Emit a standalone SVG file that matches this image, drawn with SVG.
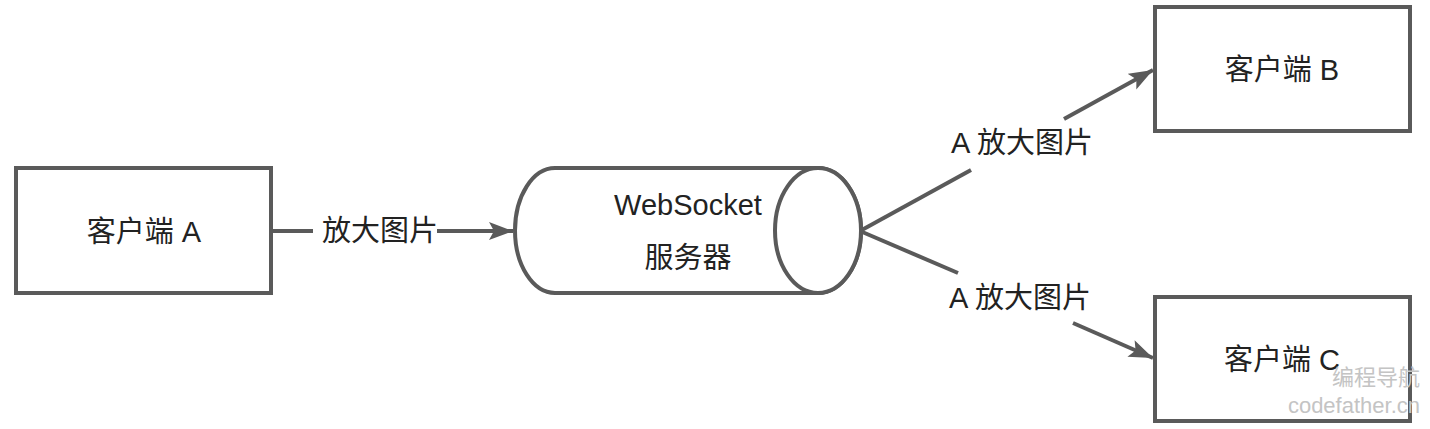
<svg xmlns="http://www.w3.org/2000/svg" width="1430" height="429" viewBox="0 0 1430 429">
<style>
.box{fill:#fff;stroke:#5a5a5a;stroke-width:4}
.ln{fill:none;stroke:#5a5a5a;stroke-width:4}
.t{font-family:"Liberation Sans","Noto Sans CJK SC",sans-serif;font-size:29px;fill:#222;text-anchor:middle}
.wm{font-family:"Liberation Sans","Noto Sans CJK SC",sans-serif;font-size:22px;fill:#c4c4c4;text-anchor:end}
</style>
<defs>
<marker id="ah" markerUnits="userSpaceOnUse" markerWidth="26" markerHeight="20" refX="24" refY="10" orient="auto">
<path d="M0,1 L24,10 L0,19 L5,10 Z" fill="#5a5a5a"/>
</marker>
</defs>
<rect width="1430" height="429" fill="#fff"/>
<g id="connectors">
<path class="ln" d="M271,231 L313,231"/>
<path class="ln" d="M437,231 L513,231" marker-end="url(#ah)"/>
<text class="t" x="380" y="241">放大图片</text>
<path class="ln" d="M860,231 L971,170"/>
<path class="ln" d="M1064,119 L1153,70" marker-end="url(#ah)"/>
<text class="t" x="1022" y="153">A 放大图片</text>
<path class="ln" d="M860,231 L958,273"/>
<path class="ln" d="M1073,323 L1153,358" marker-end="url(#ah)"/>
<text class="t" x="1020" y="308">A 放大图片</text>
</g>
<g id="clientA">
<rect class="box" x="16" y="168" width="255" height="125"/>
<text class="t" x="144" y="242">客户端 A</text>
</g>
<g id="server">
<path class="box" d="M555,168 L818,168 A43,62.5 0 0 1 818,293 L555,293 A40,62.5 0 0 1 555,168 Z"/>
<ellipse class="box" cx="818" cy="230.5" rx="43" ry="62.5" fill="none"/>
<text class="t" x="688" y="215">WebSocket</text>
<text class="t" x="688" y="268">服务器</text>
</g>
<g id="clientB">
<rect class="box" x="1155" y="7" width="255" height="124"/>
<text class="t" x="1282" y="80">客户端 B</text>
</g>
<g id="clientC">
<rect class="box" x="1155" y="297" width="255" height="124"/>
<text class="t" x="1282" y="370">客户端 C</text>
</g>
<g id="watermark">
<text class="wm" x="1420" y="385">编程导航</text>
<text class="wm" x="1420" y="413">codefather.cn</text>
</g>
</svg>
